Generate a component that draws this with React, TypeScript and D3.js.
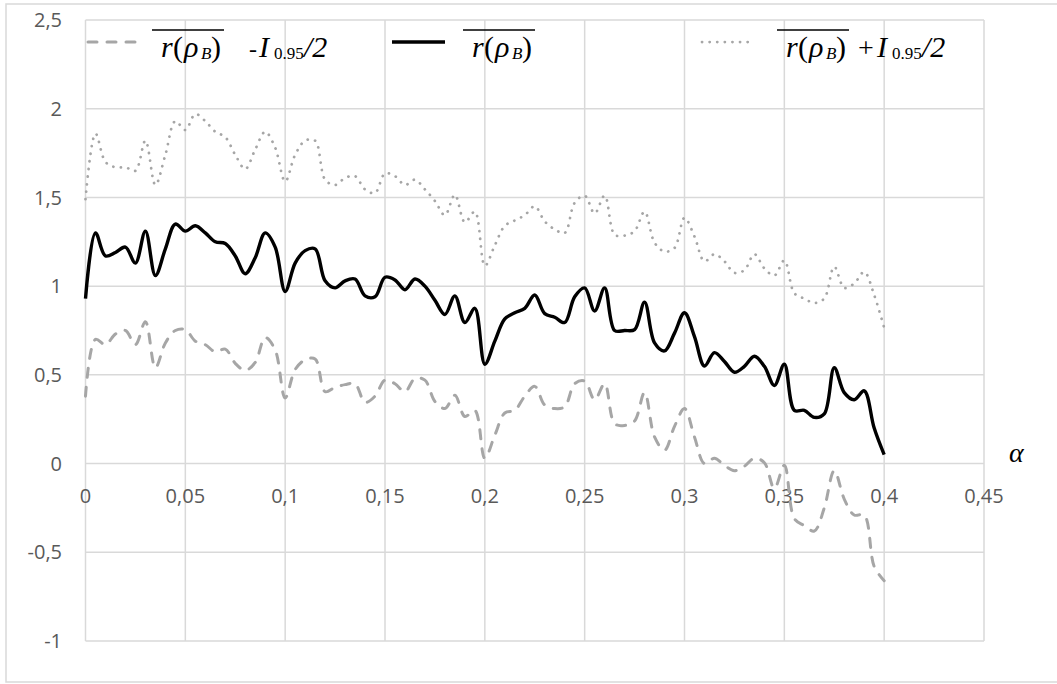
import React from "react";
import * as d3 from "d3";

const alphaX = [
  0, 0.005, 0.01, 0.015, 0.02, 0.025, 0.03, 0.035, 0.04, 0.045,
  0.05, 0.055, 0.06, 0.065, 0.07, 0.075, 0.08, 0.085, 0.09, 0.095,
  0.1, 0.105, 0.11, 0.115, 0.12, 0.125, 0.13, 0.135, 0.14, 0.145,
  0.15, 0.155, 0.16, 0.165, 0.17, 0.175, 0.18, 0.185, 0.19, 0.195,
  0.2, 0.205, 0.21, 0.215, 0.22, 0.225, 0.23, 0.235, 0.24, 0.245,
  0.25, 0.255, 0.26, 0.265, 0.27, 0.275, 0.28, 0.285, 0.29, 0.295,
  0.3, 0.305, 0.31, 0.315, 0.32, 0.325, 0.33, 0.335, 0.34, 0.345,
  0.35, 0.355, 0.36, 0.365, 0.37, 0.375, 0.38, 0.385, 0.39, 0.395,
  0.4,
];

const meanR = [
  0.93, 1.3, 1.17, 1.19, 1.22, 1.13, 1.31, 1.06, 1.21, 1.35,
  1.31, 1.34, 1.3, 1.25, 1.24, 1.17, 1.07, 1.16, 1.3, 1.22,
  0.97, 1.13, 1.2, 1.21, 1.03, 0.99, 1.03, 1.04, 0.945, 0.94,
  1.05, 1.035, 0.98, 1.04, 1.0, 0.92, 0.84, 0.945, 0.795, 0.875,
  0.56, 0.69, 0.815, 0.85, 0.875, 0.95, 0.845, 0.825, 0.795, 0.94,
  0.99, 0.86, 0.99, 0.75, 0.75, 0.755, 0.91, 0.68, 0.635, 0.735,
  0.85, 0.715, 0.55, 0.625, 0.575, 0.515, 0.548, 0.605, 0.548, 0.44,
  0.56, 0.3, 0.3, 0.26, 0.28, 0.54, 0.4, 0.36, 0.41, 0.2,
  0.05,
];

const upperR = [
  1.49, 1.86, 1.7, 1.67, 1.67, 1.65, 1.82, 1.57, 1.74, 1.93,
  1.88, 1.97, 1.93, 1.87, 1.84, 1.74, 1.66, 1.77, 1.87, 1.78,
  1.59, 1.74, 1.82, 1.82, 1.6, 1.57, 1.61, 1.62, 1.545, 1.525,
  1.635, 1.62, 1.57, 1.6, 1.545, 1.48, 1.4, 1.515, 1.36, 1.42,
  1.115, 1.23, 1.34, 1.37, 1.4, 1.45, 1.365, 1.32, 1.3, 1.47,
  1.51, 1.41, 1.51, 1.29, 1.285, 1.31, 1.42, 1.245, 1.195, 1.215,
  1.385, 1.28, 1.14, 1.18, 1.14, 1.075, 1.09, 1.18, 1.1, 1.06,
  1.145, 0.96, 0.93, 0.905, 0.93, 1.11, 0.99, 1.015, 1.08, 0.95,
  0.765,
];

const lowerR = [
  0.38, 0.7, 0.67, 0.73, 0.75, 0.67, 0.8, 0.54, 0.68, 0.75,
  0.755, 0.69, 0.67, 0.63, 0.645, 0.565, 0.525, 0.57, 0.71, 0.64,
  0.37, 0.53, 0.585, 0.59, 0.405, 0.43, 0.445, 0.45, 0.345, 0.38,
  0.47, 0.45, 0.405, 0.48, 0.47, 0.35, 0.31, 0.385, 0.265, 0.3,
  0.03, 0.16, 0.285, 0.3, 0.38, 0.435, 0.33, 0.31, 0.32, 0.45,
  0.465, 0.36, 0.45, 0.225, 0.215, 0.24, 0.4, 0.15, 0.075, 0.21,
  0.31, 0.15, 0.0, 0.03, -0.01, -0.04, -0.015, 0.03, 0.005, -0.14,
  -0.01, -0.31, -0.35, -0.38, -0.25, -0.04, -0.2, -0.29, -0.29, -0.58,
  -0.66,
];

const xTicks = [0, 0.05, 0.1, 0.15, 0.2, 0.25, 0.3, 0.35, 0.4, 0.45];
const xTickLabels = ["0", "0,05", "0,1", "0,15", "0,2", "0,25", "0,3", "0,35", "0,4", "0,45"];
const yTicks = [-1, -0.5, 0, 0.5, 1, 1.5, 2, 2.5];
const yTickLabels = ["-1", "-0,5", "0", "0,5", "1", "1,5", "2", "2,5"];

const W = 1057;
const H = 684;
const GRID = "#d9d9d9";
const GRAY = "#a6a6a6";
const LABEL = "#595959";
const SERIF = "'Liberation Serif', 'DejaVu Serif', serif";
const SANS = "'Open Sans', 'Noto Sans', sans-serif";

function RhoLabel({ x }: { x: number }) {
  return (
    <g>
      <line x1={x} x2={x + 72} y1={30} y2={30} stroke="#000" strokeWidth={1.5} />
      <text y={57} fontFamily={SERIF} fontSize={30} fill="#000">
        <tspan x={x + 9} fontStyle="italic">r</tspan>
        <tspan x={x + 21}>(</tspan>
        <tspan x={x + 32} fontStyle="italic">ρ</tspan>
        <tspan x={x + 49} dy={2} fontSize={17} fontStyle="italic">B</tspan>
        <tspan x={x + 59} dy={-2}>)</tspan>
      </text>
    </g>
  );
}

function Suffix({ x, sign, iX }: { x: number; sign: string; iX: number }) {
  return (
    <g fontFamily={SERIF} fill="#000">
      <text x={x} y={57} fontSize={sign === "+" ? 28 : 24}>{sign}</text>
      <text y={57} fontSize={30}>
        <tspan x={iX} fontStyle="italic">I</tspan>
        <tspan x={iX + 15} dy={2} fontSize={17}>0.95</tspan>
        <tspan x={iX + 45} dy={-2} fontStyle="italic">/2</tspan>
      </text>
    </g>
  );
}

export default function App() {
  const x = d3.scaleLinear().domain([0, 0.45]).range([85.5, 984]);
  const y = d3.scaleLinear().domain([-1, 2.5]).range([641, 20]);
  const line = d3
    .line<number>()
    .x((_, i) => x(alphaX[i]))
    .y((d) => y(d))
    .curve(d3.curveCatmullRom.alpha(0.5));

  return (
    <svg
      width={W}
      height={H}
      style={{ position: "absolute", left: 0, top: 0, background: "#fff" }}
    >
      <rect x={6} y={4} width={1200} height={678} fill="#fff" stroke={GRID} strokeWidth={1.5} />
      {yTicks.map((t) => (
        <line key={"gy" + t} x1={x(0)} x2={x(0.45)} y1={y(t)} y2={y(t)} stroke={GRID} strokeWidth={1.5} />
      ))}
      {xTicks.map((t) => (
        <line key={"gx" + t} x1={x(t)} x2={x(t)} y1={y(2.5)} y2={y(-1)} stroke={GRID} strokeWidth={1.5} />
      ))}
      {yTicks.map((t, i) => (
        <text key={"ly" + t} x={62} y={y(t)} dy="0.36em" textAnchor="end" fontFamily={SANS} fontSize={20} fill={LABEL}>
          {yTickLabels[i]}
        </text>
      ))}
      {xTicks.map((t, i) => (
        <text key={"lx" + t} x={x(t)} y={y(0) + 32} dy="0.36em" textAnchor="middle" fontFamily={SANS} fontSize={20} fill={LABEL}>
          {xTickLabels[i]}
        </text>
      ))}
      <path d={line(upperR) || ""} fill="none" stroke={GRAY} strokeWidth={2.75} strokeDasharray="0.1 7.5" strokeLinecap="round" />
      <path d={line(lowerR) || ""} fill="none" stroke={GRAY} strokeWidth={3} strokeDasharray="9 10" strokeLinecap="round" />
      <path d={line(meanR) || ""} fill="none" stroke="#000" strokeWidth={3.4} strokeLinejoin="round" />
      <text x={1009} y={462} fontFamily={SERIF} fontSize={28} fontStyle="italic" fill="#000">α</text>
      <line x1={88} x2={140} y1={42} y2={42} stroke={GRAY} strokeWidth={3} strokeDasharray="9 10" strokeLinecap="round" />
      <RhoLabel x={152} />
      <Suffix x={249} iX={259} sign="-" />
      <line x1={392} x2={445} y1={42} y2={42} stroke="#000" strokeWidth={3.4} />
      <RhoLabel x={463} />
      <line x1={702} x2={753} y1={42} y2={42} stroke={GRAY} strokeWidth={2.75} strokeDasharray="0.1 7.5" strokeLinecap="round" />
      <RhoLabel x={777} />
      <Suffix x={858} iX={877} sign="+" />
    </svg>
  );
}
